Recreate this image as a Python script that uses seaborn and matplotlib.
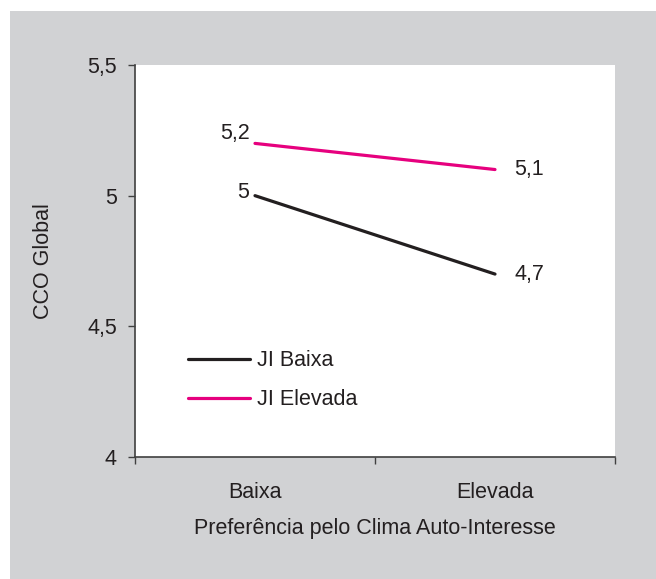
import pandas as pd
import matplotlib.pyplot as plt
import seaborn as sns
from matplotlib.patches import Rectangle
from matplotlib.ticker import FixedLocator, FuncFormatter

# data
categories = ['Baixa', 'Elevada']
ji_baixa = [5.0, 4.7]
ji_elevada = [5.2, 5.1]
series_names = ['JI Baixa', 'JI Elevada']

data = pd.DataFrame({
    'Clima': categories * 2,
    'CCO': ji_baixa + ji_elevada,
    'JI': [series_names[0]] * 2 + [series_names[1]] * 2,
})

sns.set_style('white')
plt.rcParams['font.family'] = ['Liberation Sans', 'DejaVu Sans']

fs = 15.5
txt = '#231f20'

def fmt(v):
    return ('%g' % v).replace('.', ',')

fig = plt.figure(figsize=(6.56, 5.79), dpi=100)
fig.patch.set_facecolor('white')
fig.patches.append(Rectangle((10 / 656, 0), 1, 1 - 11 / 579, transform=fig.transFigure,
                             facecolor='#d1d2d4', edgecolor='none', zorder=-10))

ax = fig.add_axes([135 / 656, 122 / 579, 480 / 656, 392 / 579])
ax.set_facecolor('white')

sns.lineplot(data=data, x='Clima', y='CCO', hue='JI', ax=ax,
             palette={'JI Baixa': txt, 'JI Elevada': '#e6007e'},
             linewidth=2.3, legend=True)

ax.set_xlim(-0.5, 1.5)
ax.set_ylim(4, 5.5)
ax.set_yticks([4, 4.5, 5, 5.5])
ax.yaxis.set_major_formatter(FuncFormatter(lambda v, p: fmt(v)))
ax.set_xticks([0, 1])
ax.set_xticklabels(categories)
ax.xaxis.set_minor_locator(FixedLocator([-0.5, 0.5, 1.5]))
ax.tick_params(axis='x', which='major', length=0, pad=18, labelsize=fs, colors=txt)
ax.tick_params(axis='x', which='minor', length=5, width=1, bottom=True, color='#404040')
ax.tick_params(axis='y', length=5, width=1, left=True, labelsize=fs, pad=8,
               color='#404040', labelcolor=txt)

for s in ['top', 'right']:
    ax.spines[s].set_visible(False)
for s in ['left', 'bottom']:
    ax.spines[s].set_color('#404040')
    ax.spines[s].set_linewidth(1.2)

ax.set_xlabel('Preferência pelo Clima Auto-Interesse', fontsize=fs, color=txt, labelpad=11)
ax.set_ylabel('CCO Global', fontsize=fs, color=txt, labelpad=24)

# value labels
for vals, dy in ((ji_baixa, 2), (ji_elevada, 7)):
    for i, v in enumerate(vals):
        ax.annotate(fmt(v), (i, v), xytext=(-4, dy) if i == 0 else (14, 0),
                    textcoords='offset points',
                    ha='right' if i == 0 else 'left', va='center', fontsize=fs, color=txt)

leg = ax.legend(loc='upper left', bbox_to_anchor=(0.07, 0.322), frameon=False,
                fontsize=fs, handlelength=2.9, handletextpad=0.3, labelspacing=0.85,
                title=None)
for t in leg.get_texts():
    t.set_color(txt)

fig.savefig('out.png', dpi=100, facecolor=fig.get_facecolor())
